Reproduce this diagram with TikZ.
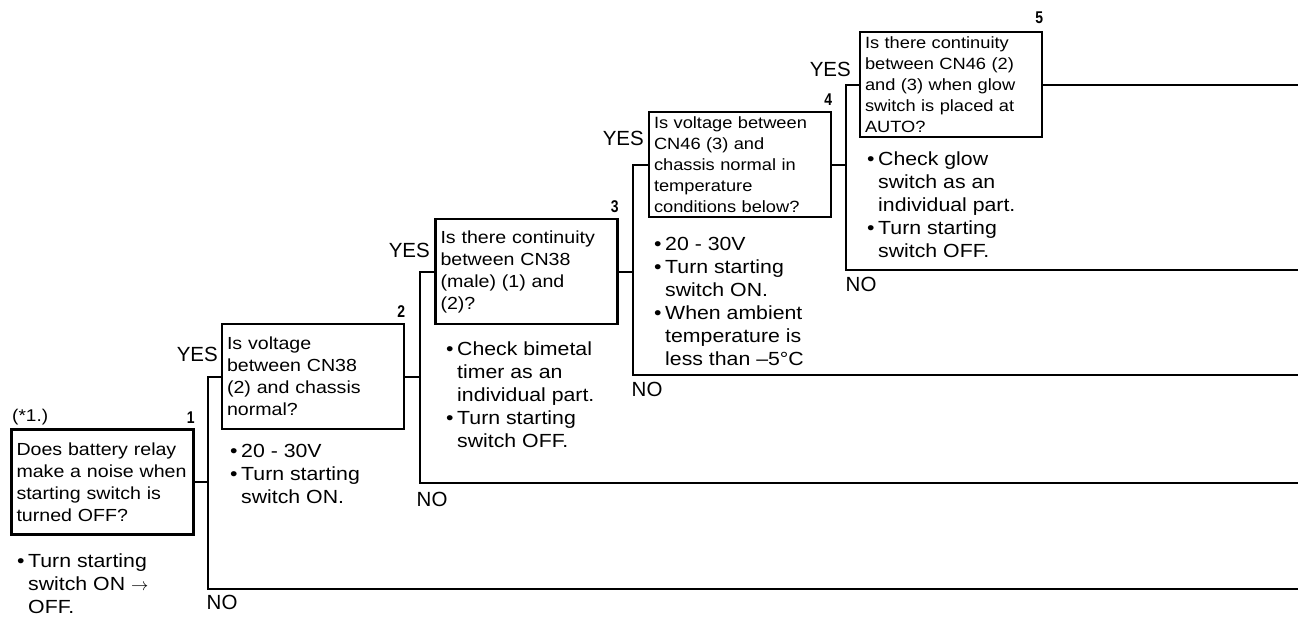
\documentclass[tikz,border=0pt]{standalone}
\usepackage{fontspec}
\setmainfont[FakeStretch=1.12]{Liberation Sans}
\newfontfamily\plainsf{Liberation Sans}
\newfontfamily\numfont[FakeStretch=0.82]{Liberation Sans}
\newcommand{\bul}{\makebox[11pt][l]{\textbullet}}
\newcommand{\hng}{\hspace*{11pt}}
\tikzset{
  qbox/.style={draw, line width=2.5pt, text width=172pt, inner xsep=5pt, inner ysep=4pt,
    minimum height=105pt, align=left, font=\fontsize{17.5}{22}\selectfont},
  qsmall/.style={qbox, font=\fontsize{16.3}{21}\selectfont},
  note/.style={anchor=north west, inner sep=0pt, align=left, font=\fontsize{19}{23}\selectfont},
  yeslbl/.style={anchor=south east, inner sep=0pt, font=\plainsf\fontsize{20.5}{24}\selectfont},
  nolbl/.style={anchor=north west, inner sep=0pt, font=\plainsf\fontsize{20.5}{24}\selectfont},
  num/.style={anchor=south east, inner sep=0pt, font=\numfont\bfseries\fontsize{17}{20}\selectfont},
  wire/.style={line width=2pt}
}
\begin{document}
\begin{tikzpicture}[x=1pt, y=-1pt]
  \useasboundingbox (0,0) rectangle (1298,616);
  \node[qbox] (q1) at (102.5,482) {Does battery relay\\make a noise when\\starting switch is\\turned OFF?};
  \node[qbox] (q2) at (313,376.5) {Is voltage\\between CN38\\(2) and chassis\\normal?};
  \node[qbox] (q3) at (526.5,271.5) {Is there continuity\\between CN38\\(male) (1) and\\(2)?};
  \node[qsmall] (q4) at (740,164.5) {Is voltage between\\CN46 (3) and\\chassis normal in\\temperature\\conditions below?};
  \node[qsmall] (q5) at (951,84.5) {Is there continuity\\between CN46 (2)\\and (3) when glow\\switch is placed at\\AUTO?};

  \node[num] (k1) at ([yshift=5pt]q1.north east) {1};
  \node[num] (k2) at ([yshift=5pt]q2.north east) {2};
  \node[num] (k3) at ([yshift=5pt]q3.north east) {3};
  \node[num] (k4) at ([yshift=5pt]q4.north east) {4};
  \node[num] (k5) at ([yshift=7pt]q5.north east) {5};
  \node[anchor=base west, inner sep=0pt, font=\fontsize{17}{20}\selectfont] (star1) at (12,421) {(*1.)};

  \node[note] (n1) at (17,554) {\bul Turn starting\\\hng switch ON $\rightarrow$\\\hng OFF.};
  \node[note] (n2) at (230,444) {\bul 20 - 30V\\\bul Turn starting\\\hng switch ON.};
  \node[note] (n3) at (446,342) {\bul Check bimetal\\\hng timer as an\\\hng individual part.\\\bul Turn starting\\\hng switch OFF.};
  \node[note] (n4) at (654,237) {\bul 20 - 30V\\\bul Turn starting\\\hng switch ON.\\\bul When ambient\\\hng temperature is\\\hng less than –5°C};
  \node[note] (n5) at (867,152) {\bul Check glow\\\hng switch as an\\\hng individual part.\\\bul Turn starting\\\hng switch OFF.};

  \coordinate (j1) at (208,589); \coordinate (e1) at (1298,589);
  \coordinate (j2) at (420,483); \coordinate (e2) at (1298,483);
  \coordinate (j3) at (633,375); \coordinate (e3) at (1298,375);
  \coordinate (j4) at (846,270); \coordinate (e4) at (1298,270);

  \draw[wire] (q1.east) -- (q1.east -| j1);
  \draw[wire] (q2.west) -| (j1) -- (e1);
  \draw[wire] (q2.east) -- (q2.east -| j2);
  \draw[wire] (q3.west) -| (j2) -- (e2);
  \draw[wire] (q3.east) -- (q3.east -| j3);
  \draw[wire] (q4.west) -| (j3) -- (e3);
  \draw[wire] (q4.east) -- (q4.east -| j4);
  \draw[wire] (q5.west) -| (j4) -- (e4);
  \draw[wire] (q5.east) -- (q5.east -| e4);

  \node[yeslbl] (y2) at (218,362) {YES};
  \node[yeslbl] (y3) at (430,258) {YES};
  \node[yeslbl] (y4) at (644,146) {YES};
  \node[yeslbl] (y5) at (851,77) {YES};
  \node[nolbl] (o1) at (206.5,595) {NO};
  \node[nolbl] (o2) at (416.5,492) {NO};
  \node[nolbl] (o3) at (631.5,382) {NO};
  \node[nolbl] (o4) at (845.5,277) {NO};
\end{tikzpicture}
\end{document}
